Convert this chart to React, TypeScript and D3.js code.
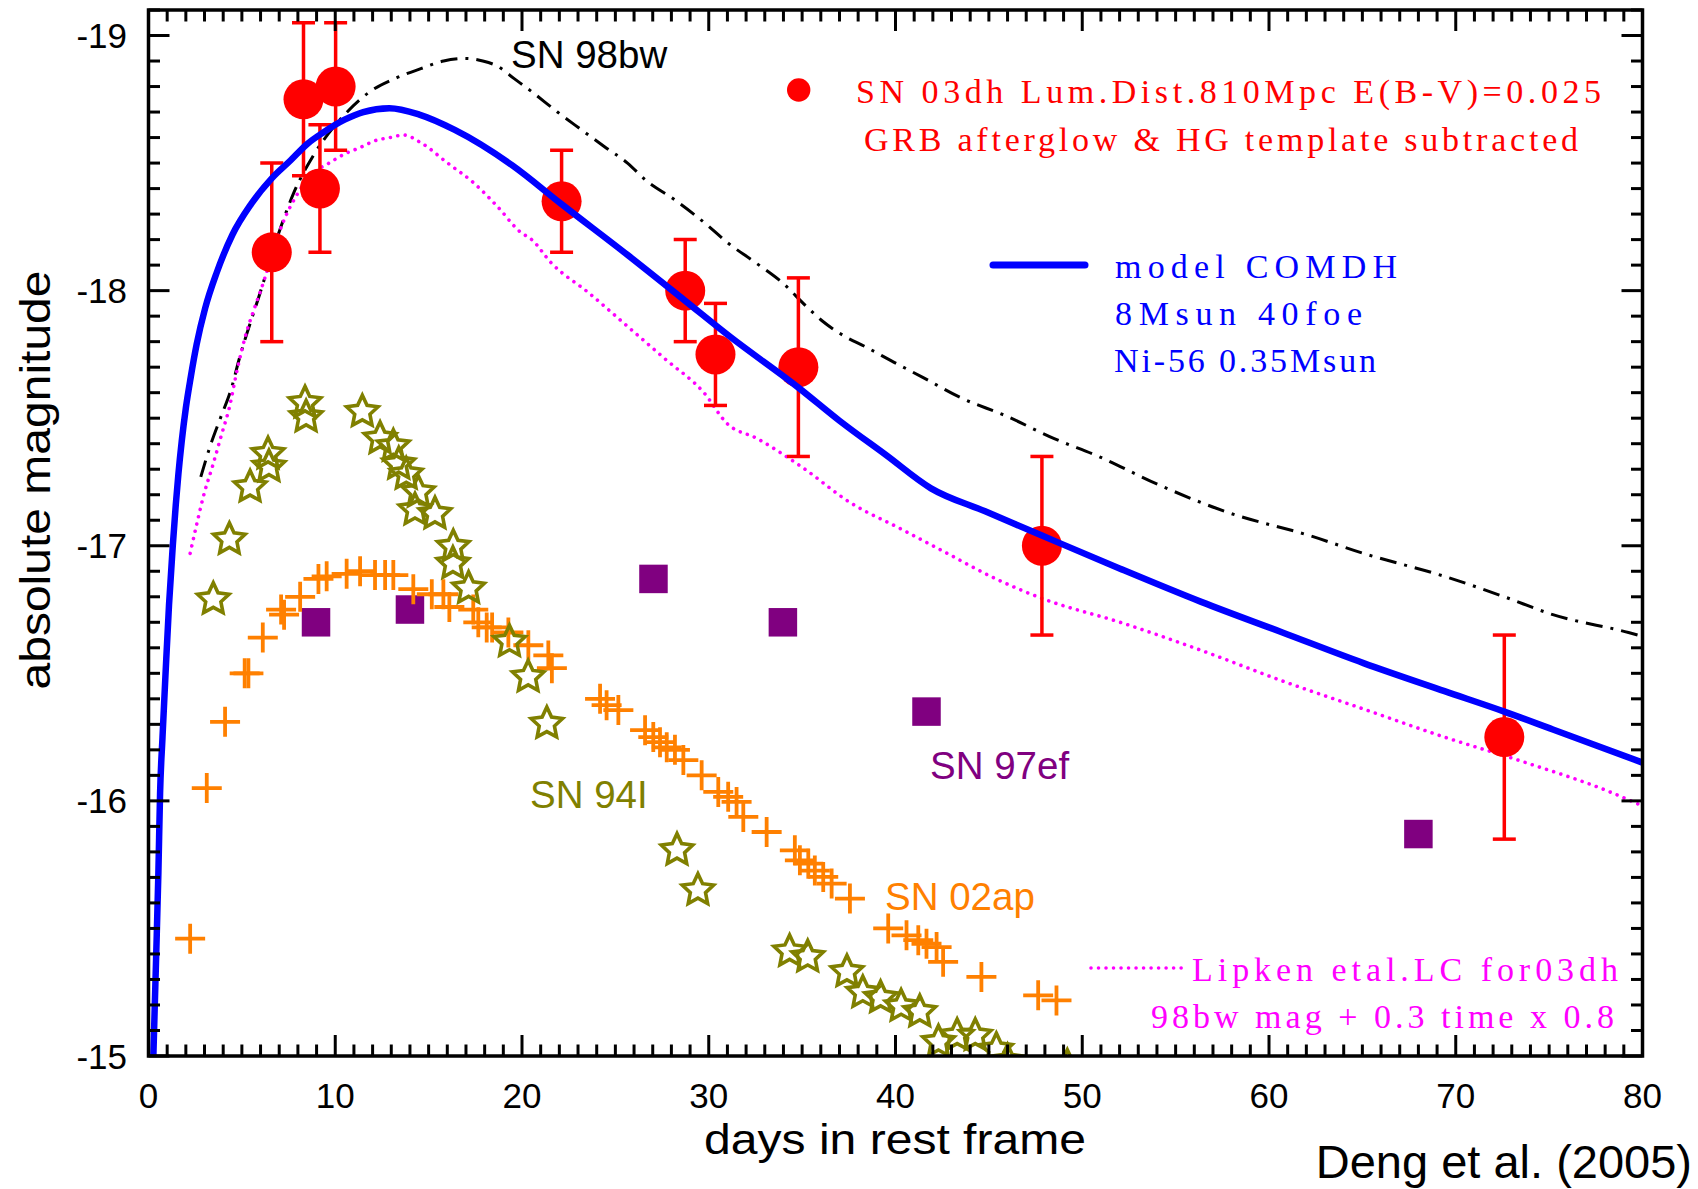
import React from "react";
import * as d3 from "d3";

// ---- data -------------------------------------------------------------
// SN 2003dh photometry (rest-frame days, absolute magnitude, 1-sigma error)
const sn03dhDays = [6.6, 8.3, 9.18, 10.02, 22.12, 28.74, 30.36, 34.8, 47.84, 72.6];
const sn03dhMags = [-18.15, -18.75, -18.4, -18.8, -18.35, -18.0, -17.75, -17.7, -17.0, -16.25];
const sn03dhErrs = [0.35, 0.3, 0.25, 0.25, 0.2, 0.2, 0.2, 0.35, 0.35, 0.4];

// model COMDH light curve
const modelCurve: [number, number][] = [
  [0.26, -15.0], [0.41, -15.39], [0.53, -15.72], [0.62, -16.03], [0.75, -16.25], [0.92, -16.51],
  [1.1, -16.77], [1.3, -17.0], [1.46, -17.16], [1.6, -17.28], [1.78, -17.41], [2.0, -17.54],
  [2.26, -17.66], [2.58, -17.79], [3.03, -17.93], [3.65, -18.07], [4.5, -18.22], [5.5, -18.34],
  [6.6, -18.44], [7.6, -18.51], [8.5, -18.575], [9.36, -18.62], [10.5, -18.67], [11.5, -18.7],
  [12.9, -18.715], [14.5, -18.69], [16.4, -18.63], [19.5, -18.49], [22.1, -18.34], [25.65, -18.14],
  [28.74, -17.96], [31.13, -17.82], [34.8, -17.62], [37.0, -17.49], [39.5, -17.355], [41.9, -17.225],
  [44.8, -17.135], [47.84, -17.04], [52.03, -16.91], [56.37, -16.78], [60.72, -16.66], [65.06, -16.54],
  [69.4, -16.43], [72.6, -16.35], [75.2, -16.28], [80, -16.15],
];

// SN 1998bw light curve
const sn98bwCurve: [number, number][] = [
  [2.8, -17.27], [3.3, -17.39], [3.85, -17.5], [4.45, -17.62], [4.85, -17.73], [5.97, -17.99],
  [7.04, -18.24], [7.76, -18.38], [8.83, -18.53], [9.9, -18.64], [10.5, -18.69], [11.86, -18.78],
  [13.15, -18.83], [14.58, -18.87], [15.8, -18.9], [16.94, -18.91], [17.9, -18.9], [18.68, -18.88],
  [19.6, -18.83], [20.52, -18.78], [21.9, -18.7], [23.19, -18.63], [24.4, -18.565], [25.65, -18.5],
  [26.67, -18.43], [28.1, -18.36], [29.87, -18.26], [30.97, -18.19], [32.5, -18.11], [33.96, -18.03],
  [35.2, -17.94], [36.1, -17.88], [37.3, -17.82], [38.39, -17.78], [39.9, -17.72], [41.46, -17.66],
  [43.5, -17.58], [45.88, -17.51], [48.5, -17.42], [50.88, -17.35], [54.06, -17.24], [57.82, -17.13],
  [62.17, -17.04], [65.06, -16.97], [69.4, -16.88], [72.6, -16.8], [75.2, -16.73], [79.25, -16.66],
  [80, -16.645],
];

// Lipkin et al. light curve for 03dh
const lipkinCurve: [number, number][] = [
  [2.23, -16.97], [2.6, -17.09], [3.0, -17.21], [3.42, -17.31], [3.93, -17.44], [4.34, -17.545],
  [4.75, -17.69], [5.3, -17.85], [5.62, -17.92], [6.19, -18.04], [6.69, -18.16], [7.22, -18.27],
  [7.9, -18.37], [8.65, -18.45], [9.67, -18.5], [10.62, -18.54], [11.31, -18.56], [12.22, -18.59],
  [12.94, -18.6], [13.66, -18.61], [14.58, -18.58], [16.02, -18.5], [17.45, -18.42], [18.68, -18.33],
  [19.91, -18.23], [20.52, -18.2], [21.55, -18.11], [23.6, -17.99], [25.65, -17.86], [27.7, -17.73],
  [29.74, -17.6], [30.97, -17.48], [32.6, -17.42], [34.96, -17.31], [37.56, -17.17], [40.45, -17.06],
  [42.77, -16.97], [45.38, -16.87], [47.98, -16.79], [52.03, -16.7], [56.37, -16.59], [60.72, -16.47],
  [65.06, -16.36], [69.4, -16.25], [73.75, -16.15], [78.09, -16.04], [80, -15.98],
];

// SN 1994I
const sn94I: [number, number][] = [
  [3.47, -16.79], [4.33, -17.025], [5.44, -17.23], [6.4, -17.36], [6.45, -17.31], [8.38, -17.56],
  [8.44, -17.505], [11.45, -17.525], [12.4, -17.42], [13.11, -17.39], [13.4, -17.32], [13.8, -17.28],
  [14.45, -17.21], [14.27, -17.14], [15.34, -17.125], [16.32, -16.996], [16.3, -16.93], [17.14, -16.833],
  [19.33, -16.624], [20.33, -16.486], [21.33, -16.303], [28.3, -15.807], [29.42, -15.65], [34.33, -15.41],
  [35.3, -15.388], [37.4, -15.33], [38.25, -15.248], [39.2, -15.228], [40.3, -15.195], [41.3, -15.173],
  [42.3, -15.055], [43.3, -15.08], [44.27, -15.08], [45.4, -15.025], [46.0, -14.98], [49.2, -14.96],
];

// SN 2002ap
const sn02ap: [number, number][] = [
  [2.23, -15.46], [3.12, -16.05], [4.1, -16.31], [5.15, -16.5], [5.35, -16.5], [6.12, -16.64],
  [7.1, -16.75], [7.26, -16.73], [8.12, -16.8], [9.1, -16.87], [9.54, -16.88], [10.61, -16.89],
  [11.33, -16.9], [12.13, -16.885], [12.67, -16.885], [13.11, -16.885], [14.18, -16.83], [15.17, -16.81],
  [15.79, -16.81], [16.11, -16.76], [17.39, -16.75], [17.66, -16.7], [18.11, -16.68], [18.4, -16.68],
  [19.27, -16.66], [20.34, -16.61], [21.41, -16.57], [21.6, -16.52], [24.18, -16.4], [24.53, -16.375],
  [25.16, -16.356], [26.59, -16.277], [27.03, -16.25], [27.39, -16.23], [27.75, -16.21], [28.19, -16.2],
  [28.64, -16.16], [29.62, -16.1], [30.51, -16.035], [31.04, -16.016], [31.49, -15.996], [31.85, -15.937],
  [33.1, -15.878], [34.61, -15.806], [34.88, -15.767], [35.33, -15.754], [35.68, -15.727], [36.13, -15.702],
  [36.58, -15.676], [37.56, -15.617], [39.61, -15.5], [40.59, -15.473], [41.22, -15.454], [41.66, -15.44],
  [42.2, -15.427], [42.55, -15.369], [44.6, -15.31], [47.64, -15.238], [48.62, -15.218],
];

// SN 1997ef
const sn97efDays = [8.97, 14.0, 27.04, 33.97, 41.66, 68.0];
const sn97efMags = [-16.7, -16.75, -16.87, -16.7, -16.35, -15.87];

// axes
const xMajorTicks = [0, 10, 20, 30, 40, 50, 60, 70, 80];
const yMajorTicks = [-19, -18, -17, -16, -15];

// ---- layout -----------------------------------------------------------
const W = 1698;
const H = 1189;
const L = 148.5;
const R = 1642.5;
const T = 10;
const B = 1056;

const SANS = "'Liberation Sans', Arial, Helvetica, sans-serif";
const SERIF = "'Liberation Serif', 'Times New Roman', serif";

const RED = "#ff0000";
const BLUE = "#0000ff";
const MAGENTA = "#ff00ff";
const ORANGE = "#ff8000";
const OLIVE = "#808000";
const PURPLE = "#800080";

function starPath(outer: number, inner: number): string {
  const pts: string[] = [];
  for (let i = 0; i < 10; i++) {
    const a = -Math.PI / 2 + (i * Math.PI) / 5;
    const r = i % 2 === 0 ? outer : inner;
    pts.push(`${(r * Math.cos(a)).toFixed(2)},${(r * Math.sin(a)).toFixed(2)}`);
  }
  return "M" + pts.join("L") + "Z";
}

export default function App() {
  const x = d3.scaleLinear().domain([0, 80]).range([L, R]);
  const y = d3.scaleLinear().domain([-19.1, -15]).range([T, B]);

  const line = d3
    .line<[number, number]>()
    .x((d) => x(d[0]))
    .y((d) => y(d[1]))
    .curve(d3.curveMonotoneX);

  const xMinor = d3.range(0, 81).filter((d) => d % 10 !== 0);
  const yMinor = d3
    .range(0, 42)
    .map((i) => Math.round((-19.1 + i * 0.1) * 10) / 10)
    .filter((v) => Math.abs(v - Math.round(v)) > 1e-6);

  const star = starPath(16.5, 8);
  const crossArm = 15;
  const sq = 28.5;

  const majLen = 21;
  const minLen = 11.5;

  const dotted = "0.01,7.5";
  const dashDot = "17,8,3,8";

  return (
    <svg
      width={W}
      height={H}
      viewBox={`0 0 ${W} ${H}`}
      style={{ position: "absolute", left: 0, top: 0, background: "#fff" }}
    >
      <defs>
        <clipPath id="plotArea">
          <rect x={L} y={T} width={R - L} height={B - T} />
        </clipPath>
      </defs>
      <rect x={0} y={0} width={W} height={H} fill="#fff" />

      <g clipPath="url(#plotArea)">
        {/* SN 1997ef squares */}
        {sn97efDays.map((d, i) => (
          <rect
            key={`sq${i}`}
            x={x(d) - sq / 2}
            y={y(sn97efMags[i]) - sq / 2}
            width={sq}
            height={sq}
            fill={PURPLE}
          />
        ))}

        {/* SN 2002ap crosses */}
        {sn02ap.map((d, i) => (
          <path
            key={`cr${i}`}
            d={`M${x(d[0]) - crossArm},${y(d[1])}h${2 * crossArm}M${x(d[0])},${y(d[1]) - crossArm}v${2 * crossArm}`}
            stroke={ORANGE}
            strokeWidth={3.8}
            fill="none"
          />
        ))}

        {/* SN 1994I stars */}
        {sn94I.map((d, i) => (
          <path
            key={`st${i}`}
            d={star}
            transform={`translate(${x(d[0])},${y(d[1])})`}
            fill="none"
            stroke={OLIVE}
            strokeWidth={3.6}
            strokeLinejoin="miter"
          />
        ))}

        {/* SN 1998bw */}
        <path
          d={line(sn98bwCurve) ?? ""}
          fill="none"
          stroke="#000"
          strokeWidth={3}
          strokeDasharray={dashDot}
        />

        {/* Lipkin et al. */}
        <path
          d={line(lipkinCurve) ?? ""}
          fill="none"
          stroke={MAGENTA}
          strokeWidth={3.6}
          strokeLinecap="round"
          strokeDasharray={dotted}
        />

        {/* SN 2003dh error bars and points */}
        {sn03dhDays.map((d, i) => {
          const cx = x(d);
          const y1 = y(sn03dhMags[i] - sn03dhErrs[i]);
          const y2 = y(sn03dhMags[i] + sn03dhErrs[i]);
          return (
            <g key={`eb${i}`} stroke={RED} strokeWidth={3.5}>
              <line x1={cx} x2={cx} y1={y1} y2={y2} />
              <line x1={cx - 11.5} x2={cx + 11.5} y1={y1} y2={y1} />
              <line x1={cx - 11.5} x2={cx + 11.5} y1={y2} y2={y2} />
            </g>
          );
        })}
        {sn03dhDays.map((d, i) => (
          <circle key={`pt${i}`} cx={x(d)} cy={y(sn03dhMags[i])} r={20} fill={RED} />
        ))}

        {/* model */}
        <path d={line(modelCurve) ?? ""} fill="none" stroke={BLUE} strokeWidth={6.5} />
      </g>

      {/* frame */}
      <rect x={L} y={T} width={R - L} height={B - T} fill="none" stroke="#000" strokeWidth={3.5} />

      {/* ticks */}
      <g stroke="#000" strokeWidth={3}>
        {xMajorTicks.map((t) => (
          <g key={`xM${t}`}>
            <line x1={x(t)} x2={x(t)} y1={B} y2={B - majLen} />
            <line x1={x(t)} x2={x(t)} y1={T} y2={T + majLen} />
          </g>
        ))}
        {xMinor.map((t) => (
          <g key={`xm${t}`}>
            <line x1={x(t)} x2={x(t)} y1={B} y2={B - minLen} />
            <line x1={x(t)} x2={x(t)} y1={T} y2={T + minLen} />
          </g>
        ))}
        {yMajorTicks.map((t) => (
          <g key={`yM${t}`}>
            <line x1={L} x2={L + majLen} y1={y(t)} y2={y(t)} />
            <line x1={R} x2={R - majLen} y1={y(t)} y2={y(t)} />
          </g>
        ))}
        {yMinor.map((t) => (
          <g key={`ym${t}`}>
            <line x1={L} x2={L + minLen} y1={y(t)} y2={y(t)} />
            <line x1={R} x2={R - minLen} y1={y(t)} y2={y(t)} />
          </g>
        ))}
      </g>

      {/* tick labels */}
      <g fontFamily={SANS} fontSize={35} fill="#000">
        {xMajorTicks.map((t) => (
          <text key={`xl${t}`} x={x(t)} y={1108} textAnchor="middle">
            {t}
          </text>
        ))}
        {yMajorTicks.map((t) => (
          <text key={`yl${t}`} x={127} y={y(t) + 12.5} textAnchor="end">
            {t}
          </text>
        ))}
      </g>

      {/* axis titles */}
      <text
        x={895}
        y={1154}
        textAnchor="middle"
        fontFamily={SANS}
        fontSize={42}
        textLength={382}
        lengthAdjust="spacingAndGlyphs"
      >
        days in rest frame
      </text>
      <text
        transform={`translate(50,480) rotate(-90)`}
        textAnchor="middle"
        fontFamily={SANS}
        fontSize={42}
        textLength={419}
        lengthAdjust="spacingAndGlyphs"
      >
        absolute magnitude
      </text>
      <text x={1692} y={1178} textAnchor="end" fontFamily={SANS} fontSize={47}>
        Deng et al. (2005)
      </text>

      {/* curve labels */}
      <g fontFamily={SANS} fontSize={38.5}>
        <text x={511} y={68} fill="#000">SN 98bw</text>
        <text x={530} y={808} fill={OLIVE}>SN 94I</text>
        <text x={885} y={910} fill={ORANGE}>SN 02ap</text>
        <text x={930} y={779} fill={PURPLE}>SN 97ef</text>
      </g>

      {/* legend */}
      <g fontFamily={SERIF} fontSize={34}>
        <circle cx={798.7} cy={90} r={11.7} fill={RED} />
        <text x={856} y={102.7} fill={RED} textLength={745}>
          SN 03dh Lum.Dist.810Mpc E(B-V)=0.025
        </text>
        <text x={864} y={150.7} fill={RED} textLength={714}>
          GRB afterglow &amp; HG template subtracted
        </text>

        <line x1={993} x2={1085} y1={265} y2={265} stroke={BLUE} strokeWidth={7} strokeLinecap="round" />
        <text x={1115} y={277.7} fill={BLUE} textLength={282}>
          model COMDH
        </text>
        <text x={1115} y={325} fill={BLUE} textLength={247}>
          8Msun 40foe
        </text>
        <text x={1114} y={372.3} fill={BLUE} textLength={262}>
          Ni-56 0.35Msun
        </text>

        <line
          x1={1091}
          x2={1182}
          y1={968}
          y2={968}
          stroke={MAGENTA}
          strokeWidth={3.6}
          strokeLinecap="round"
          strokeDasharray={dotted}
        />
        <text x={1192} y={980.7} fill={MAGENTA} textLength={426}>
          Lipken etal.LC for03dh
        </text>
        <text x={1151} y={1028.3} fill={MAGENTA} textLength={463}>
          98bw mag + 0.3 time x 0.8
        </text>
      </g>
    </svg>
  );
}
